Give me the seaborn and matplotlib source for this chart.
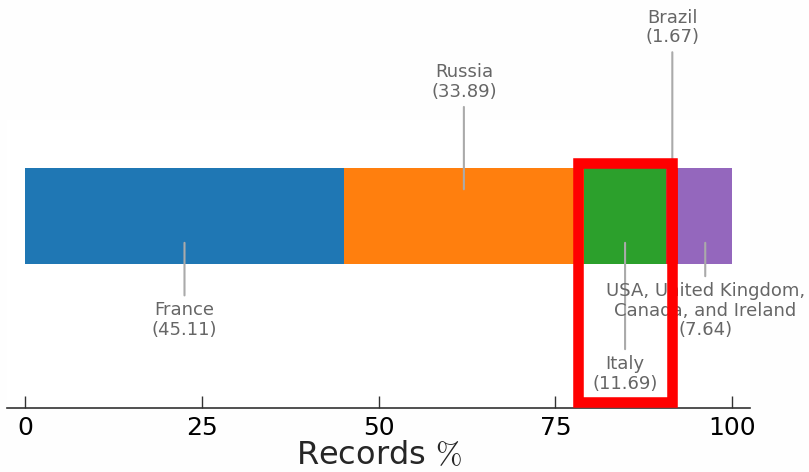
import matplotlib
matplotlib.use("Agg")
import matplotlib.pyplot as plt
import seaborn as sns
import numpy as np
import pandas as pd
from matplotlib.patches import Rectangle

# データ
countries = ["France", "Russia", "Italy", "Brazil", "USA, United Kingdom,\nCanada, and Ireland"]
records_pct = [45.11, 33.89, 11.69, 1.67, 7.64]
colors = ["#1f77b4", "#ff7f0e", "#2ca02c", "#d62728", "#9467bd"]
# ラベル位置 (上/下) とテキストの高さ
label_side = ["below", "above", "below", "above", "below"]
label_y = [-0.89, 1.2, -1.45, 1.77, -0.69]

sns.set_style("white")
plt.rcParams["font.family"] = ["DejaVu Sans"]
plt.rcParams["mathtext.fontset"] = "cm"

fig = plt.figure(figsize=(8.09, 4.72), dpi=100, facecolor="#fefefe")
ax = fig.add_axes([0.009, 0.1356, 0.918, 0.61])
ax.set_facecolor("white")

cum = np.cumsum(records_pct)
starts = cum - np.array(records_pct)

# 積み上げ棒: 累積値を長い順に重ねて描画
for i in reversed(range(len(countries))):
    df = pd.DataFrame({"pct": [cum[i]], "row": ["all"]})
    sns.barplot(data=df, x="pct", y="row", orient="h", color=colors[i],
                width=1.0, saturation=1, linewidth=0, edgecolor="none", ax=ax, zorder=1)

# 注釈
for i, name in enumerate(countries):
    xc = starts[i] + records_pct[i] / 2
    if label_side[i] == "above":
        xy_y, va = 0.25, "bottom"
    else:
        xy_y, va = -0.25, "top"
    ax.annotate(f"{name}\n({records_pct[i]:.2f})", xy=(xc, xy_y), xytext=(xc, label_y[i]),
                ha="center", va=va, fontsize=13, color="#666666", linespacing=1.1,
                arrowprops=dict(arrowstyle="-", color="#aaaaaa", lw=1.5),
                annotation_clip=False, zorder=3)

# 強調枠 (Italy + Brazil)
ax.add_patch(Rectangle((78.25, -1.94), 91.45 - 78.25, 0.55 + 1.94, fill=False,
                       edgecolor="#ff0000", linewidth=7.6, zorder=5, clip_on=False))

ax.set_xlim(-2.5, 102.5)
ax.set_ylim(-2, 1)
ax.set_xticks([0, 25, 50, 75, 100])
ax.tick_params(axis="x", bottom=True, direction="in", length=9, width=1, labelsize=18, pad=6,
               color="#333333", labelcolor="black")
ax.set_xlabel("Records $\\%$", fontsize=23, labelpad=0)
ax.set_ylabel("")
ax.yaxis.set_visible(False)
for side in ["left", "top", "right"]:
    ax.spines[side].set_visible(False)
ax.spines["bottom"].set_color("#333333")
ax.spines["bottom"].set_linewidth(1.2)

fig.savefig("out.png", dpi=100, facecolor=fig.get_facecolor())
